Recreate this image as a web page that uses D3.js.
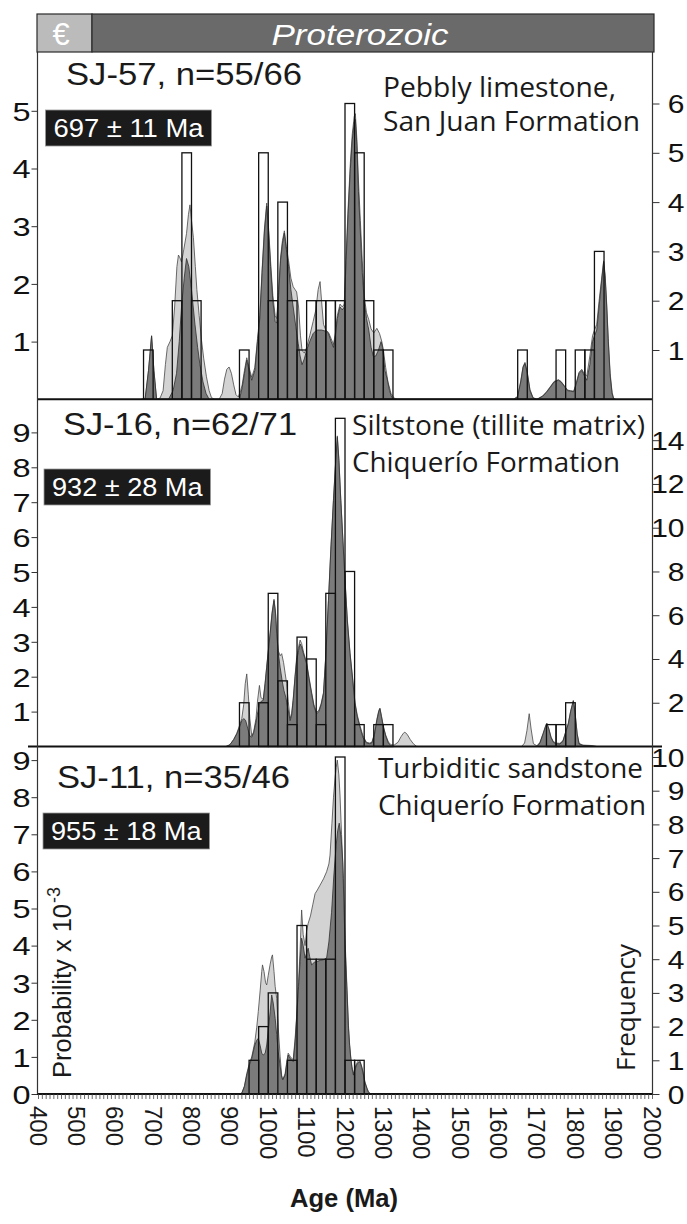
<!DOCTYPE html>
<html><head><meta charset="utf-8">
<script src="https://cdn.jsdelivr.net/npm/d3@7"></script>
<style>body{margin:0;background:#fff}svg{display:block}</style>
</head><body>
<svg id="c" width="687" height="1224"></svg>
<script>
// ---------------- DATA ----------------
const BIN_WIDTH = 25;
const ageTicks = d3.range(400, 2001, 100);
const ageMinorTicks = d3.range(400, 2001, 10);
const periodLabels = ["€", "Proterozoic"];
const sampleNames = ["SJ-57, n=55/66", "SJ-16, n=62/71", "SJ-11, n=35/46"];
const maxAgeLabels = ["697 ± 11 Ma", "932 ± 28 Ma", "955 ± 18 Ma"];
const lithology = [["Pebbly limestone,", "San Juan Formation"],
                   ["Siltstone (tillite matrix)", "Chiquerío Formation"],
                   ["Turbiditic sandstone", "Chiquerío Formation"]];
const probTicks1 = [1,2,3,4,5], freqTicks1 = [1,2,3,4,5,6];
const probTicks2 = [1,2,3,4,5,6,7,8,9], freqTicks2 = [2,4,6,8,10,12,14];
const probTicks3 = [0,1,2,3,4,5,6,7,8,9], freqTicks3 = [0,1,2,3,4,5,6,7,8,9,10];

// histogram bins (start age of 25 Ma bin) and counts
const sj57BinStart = [675,750,775,800,925,975,1000,1025,1050,1075,1100,1125,1150,1175,1200,1225,1250,1275,1300,1650,1750,1800,1825,1850];
const sj57Count    = [1,2,5,2,1,5,2,4,2,1,2,2,2,2,6,5,2,1,1,1,1,1,1,3];
const sj16BinStart = [925,975,1000,1025,1050,1075,1100,1125,1150,1175,1200,1225,1275,1300,1725,1750,1775];
const sj16Count    = [2,2,7,3,1,5,4,1,7,15,8,1,1,1,1,1,2];
const sj11BinStart = [950,975,1000,1050,1075,1100,1125,1150,1175,1200,1225];
const sj11Count    = [1,2,3,1,5,4,4,4,10,1,1];

// probability density curves [age, probability x 1e-3]
const sj57Dark = [[670,0],[679,0],[688,0.5],[696,1.1],[702,0.5],[709,0],[740,0],[752,0.15],[761,0.45],[768,1.0],[774,1.6],[781,2.1],[787,2.44],[793,2.3],[800,1.9],[809,1.3],[816,0.9],[822,0.6],[830,0.3],[838,0.1],[846,0],[925,0],[932,0.2],[938,0.45],[944,0.68],[950,0.5],[957,0.33],[965,0.5],[972,1.0],[978,1.4],[984,2.2],[990,2.9],[996,3.35],[1001,2.9],[1006,2.3],[1012,1.7],[1018,1.35],[1022,1.32],[1027,1.8],[1032,2.4],[1037,2.7],[1042,2.88],[1047,2.6],[1053,2.3],[1059,1.9],[1065,1.6],[1072,1.25],[1078,0.97],[1083,0.75],[1088,0.6],[1094,0.7],[1100,0.85],[1108,1.0],[1117,1.14],[1126,1.2],[1139,1.2],[1150,1.18],[1157,1.14],[1164,1.0],[1170,0.9],[1175,1.1],[1180,1.4],[1187,1.6],[1193,1.55],[1198,1.6],[1203,2.4],[1208,3.2],[1214,4.0],[1219,4.5],[1224,4.8],[1227,4.85],[1231,4.4],[1235,3.6],[1240,2.9],[1245,2.2],[1250,1.7],[1256,1.4],[1262,1.2],[1268,0.9],[1274,0.74],[1280,0.75],[1287,0.85],[1294,1.0],[1298,0.9],[1304,0.5],[1310,0.35],[1316,0.15],[1322,0.03],[1328,0],[1640,0],[1650,0.05],[1658,0.3],[1664,0.55],[1669,0.62],[1675,0.45],[1682,0.15],[1690,0.02],[1700,0],[1715,0.05],[1725,0.12],[1734,0.2],[1745,0.3],[1756,0.33],[1763,0.3],[1772,0.22],[1780,0.15],[1788,0.14],[1796,0.13],[1802,0.25],[1810,0.45],[1817,0.5],[1823,0.42],[1830,0.33],[1838,0.6],[1845,1.0],[1850,1.1],[1856,1.2],[1862,1.6],[1868,2.0],[1874,2.38],[1878,2.1],[1882,1.6],[1886,1.0],[1891,0.4],[1896,0.1],[1900,0]];
const sj57Light = [[670,0],[679,0],[688,0.5],[696,1.1],[702,0.5],[709,0],[718,0.02],[726,0.15],[732,0.6],[737,0.9],[744,1.0],[750,1.1],[756,1.6],[762,2.3],[766,2.5],[770,2.45],[774,2.38],[780,2.6],[787,2.87],[792,3.2],[796,3.37],[800,3.1],[805,2.8],[810,2.3],[814,1.9],[820,1.45],[826,1.03],[832,0.7],[839,0.39],[846,0.15],[852,0.03],[860,0],[872,0],[880,0.1],[886,0.35],[892,0.52],[898,0.56],[904,0.45],[910,0.25],[916,0.08],[922,0.04],[928,0.15],[932,0.25],[938,0.5],[944,0.72],[950,0.55],[957,0.38],[965,0.55],[972,1.05],[978,1.45],[984,2.25],[990,2.95],[996,3.4],[1001,2.95],[1006,2.4],[1012,1.8],[1018,1.45],[1022,1.4],[1027,1.9],[1032,2.45],[1037,2.75],[1042,2.92],[1047,2.65],[1053,2.4],[1059,2.1],[1065,1.95],[1070,1.9],[1074,1.86],[1079,1.6],[1084,1.1],[1088,0.85],[1094,0.8],[1100,0.9],[1108,1.1],[1117,1.35],[1124,1.55],[1130,1.9],[1135,2.04],[1139,1.7],[1144,1.3],[1150,1.2],[1157,1.16],[1164,1.05],[1170,0.95],[1175,1.15],[1180,1.45],[1187,1.65],[1193,1.6],[1198,1.65],[1203,2.5],[1208,3.3],[1214,4.1],[1219,4.6],[1224,4.9],[1227,4.95],[1231,4.5],[1235,3.8],[1240,3.1],[1245,2.4],[1250,1.8],[1256,1.5],[1262,1.38],[1268,1.22],[1275,1.15],[1283,1.23],[1290,1.14],[1296,1.0],[1300,0.85],[1306,0.55],[1312,0.3],[1320,0.1],[1328,0.02],[1336,0],[1640,0],[1650,0.05],[1658,0.32],[1664,0.57],[1669,0.64],[1675,0.47],[1682,0.17],[1690,0.03],[1700,0],[1715,0.06],[1725,0.13],[1734,0.21],[1745,0.31],[1756,0.34],[1763,0.31],[1772,0.23],[1780,0.16],[1788,0.15],[1796,0.14],[1802,0.27],[1810,0.47],[1817,0.52],[1823,0.45],[1830,0.4],[1838,0.75],[1845,1.1],[1850,1.2],[1856,1.3],[1862,1.7],[1868,2.05],[1874,2.4],[1878,2.15],[1882,1.65],[1886,1.05],[1891,0.45],[1896,0.12],[1900,0.02],[1905,0]];

const sj16Dark = [[890,0],[900,0.05],[910,0.2],[918,0.36],[925,0.55],[931,0.74],[936,0.8],[941,0.75],[947,0.5],[952,0.3],[957,0.27],[962,0.4],[968,0.7],[973,1.0],[977,1.22],[982,1.3],[987,1.32],[992,1.8],[996,2.27],[1001,2.8],[1005,3.23],[1010,3.8],[1015,4.18],[1019,3.8],[1022,3.23],[1026,2.7],[1031,2.27],[1036,1.9],[1041,1.6],[1046,1.4],[1051,1.1],[1057,0.74],[1061,0.9],[1065,1.32],[1070,2.0],[1074,2.46],[1079,2.75],[1083,2.94],[1087,2.85],[1092,2.65],[1100,2.37],[1106,1.95],[1113,1.51],[1119,1.15],[1126,0.94],[1132,1.0],[1138,1.2],[1144,1.51],[1150,2.6],[1157,4.18],[1163,5.6],[1170,7.05],[1175,8.0],[1180,8.86],[1184,8.2],[1189,7.05],[1194,6.0],[1200,4.76],[1206,3.6],[1213,2.66],[1220,1.9],[1226,1.22],[1232,0.85],[1239,0.55],[1247,0.25],[1256,0.1],[1264,0.08],[1270,0.1],[1277,0.35],[1283,0.74],[1288,1.0],[1291,1.08],[1295,0.85],[1300,0.55],[1306,0.3],[1313,0.1],[1320,0.02],[1326,0],[1700,0],[1708,0.1],[1716,0.35],[1722,0.55],[1726,0.65],[1731,0.5],[1737,0.25],[1743,0.12],[1750,0.08],[1760,0.07],[1768,0.15],[1775,0.4],[1782,0.65],[1788,1.0],[1795,1.3],[1800,0.9],[1805,0.35],[1810,0.07],[1820,0.03],[1840,0.02],[1856,0]];
const sj16Light = [[890,0],[900,0.05],[910,0.2],[918,0.38],[925,0.6],[931,0.8],[936,1.2],[940,1.8],[944,2.08],[948,1.5],[952,0.8],[957,0.3],[962,0.42],[968,0.8],[972,1.3],[977,1.75],[981,1.4],[987,1.35],[992,1.85],[996,2.3],[1001,2.85],[1005,3.27],[1010,3.85],[1015,4.22],[1019,3.85],[1022,3.3],[1026,2.75],[1031,2.6],[1035,2.66],[1040,2.4],[1044,2.1],[1048,1.8],[1052,1.3],[1057,0.8],[1061,0.95],[1065,1.36],[1070,2.05],[1074,2.55],[1079,2.85],[1083,3.05],[1087,2.95],[1092,2.7],[1100,2.4],[1106,2.0],[1113,1.55],[1119,1.2],[1126,0.98],[1132,1.04],[1138,1.24],[1144,1.55],[1150,2.65],[1157,4.22],[1163,5.65],[1170,7.1],[1175,8.05],[1180,8.9],[1184,8.25],[1189,7.1],[1194,6.05],[1200,4.8],[1206,3.65],[1213,2.7],[1220,1.95],[1226,1.27],[1232,0.9],[1239,0.6],[1247,0.3],[1256,0.12],[1264,0.1],[1270,0.12],[1277,0.38],[1283,0.78],[1288,1.03],[1291,1.1],[1295,0.88],[1300,0.58],[1306,0.33],[1313,0.13],[1320,0.05],[1328,0.04],[1338,0.12],[1346,0.28],[1352,0.38],[1356,0.41],[1362,0.35],[1370,0.2],[1378,0.08],[1387,0],[1660,0],[1668,0.1],[1674,0.45],[1680,0.94],[1685,0.5],[1691,0.08],[1700,0.02],[1708,0.12],[1716,0.37],[1722,0.57],[1726,0.67],[1731,0.52],[1737,0.27],[1743,0.14],[1750,0.1],[1760,0.09],[1768,0.17],[1775,0.42],[1782,0.67],[1788,1.02],[1795,1.32],[1800,0.92],[1805,0.37],[1810,0.09],[1820,0.04],[1840,0.03],[1856,0]];

const sj11Dark = [[925,0],[931,0.02],[938,0.2],[944,0.51],[950,0.75],[957,0.96],[965,1.32],[970,1.45],[974,1.5],[979,1.3],[983,1.1],[987,1.05],[992,1.1],[996,1.32],[1001,1.8],[1005,2.22],[1009,2.67],[1013,2.45],[1018,2.04],[1022,1.6],[1026,1.14],[1031,0.75],[1035,0.45],[1038,0.38],[1044,0.51],[1048,0.8],[1052,1.05],[1058,0.95],[1065,0.87],[1070,1.4],[1074,2.04],[1079,2.9],[1083,3.57],[1087,4.2],[1091,4.0],[1096,3.66],[1100,3.8],[1104,3.93],[1108,3.7],[1113,3.48],[1120,3.55],[1126,3.57],[1135,3.6],[1144,3.62],[1152,3.66],[1158,4.1],[1165,4.9],[1171,5.9],[1177,6.71],[1181,7.1],[1185,7.3],[1190,6.9],[1194,6.26],[1197,5.2],[1200,4.02],[1205,2.8],[1209,1.77],[1212,1.3],[1215,0.96],[1218,0.7],[1222,0.51],[1226,0.65],[1230,0.78],[1235,0.85],[1239,0.87],[1244,0.7],[1248,0.51],[1252,0.3],[1257,0.15],[1261,0.05],[1265,0]];
const sj11Light = [[925,0],[931,0.02],[938,0.22],[944,0.55],[950,0.8],[957,1.0],[965,1.4],[970,1.8],[974,2.22],[979,2.8],[983,3.3],[985,3.48],[989,3.3],[993,3.0],[996,2.94],[1000,3.2],[1005,3.5],[1009,3.7],[1011,3.75],[1015,3.3],[1018,2.9],[1022,2.58],[1026,1.8],[1031,1.0],[1035,0.5],[1038,0.4],[1044,0.55],[1048,0.85],[1052,1.1],[1058,1.0],[1065,0.92],[1070,1.5],[1074,2.1],[1079,3.0],[1083,3.9],[1087,4.96],[1091,4.3],[1096,4.0],[1100,4.4],[1104,4.6],[1110,4.8],[1116,5.1],[1122,5.4],[1128,5.5],[1135,5.63],[1144,5.8],[1152,5.99],[1158,6.2],[1161,6.44],[1166,7.3],[1170,8.0],[1174,8.51],[1177,8.8],[1180,9.0],[1184,8.6],[1187,8.06],[1191,7.0],[1196,5.81],[1200,4.2],[1205,2.9],[1209,1.85],[1212,1.35],[1215,1.0],[1218,0.75],[1222,0.55],[1226,0.7],[1230,0.82],[1235,0.9],[1239,0.9],[1244,0.73],[1248,0.55],[1252,0.33],[1257,0.17],[1261,0.06],[1268,0]];

// ---------------- LAYOUT ----------------
const svg = d3.select("#c");
const X0 = 38, X1 = 652;
const x = d3.scaleLinear().domain([400, 2000]).range([X0, X1]);

const panels = [
  {top:52, base:399.3, probMax:5, probMaxY:110.8, freqMax:6, freqMaxY:103.5,
   probTicks:probTicks1, freqTicks:freqTicks1, bins:sj57BinStart, counts:sj57Count,
   dark:sj57Dark, light:sj57Light, lineX:[37, 653],
   nameX:66, nameY:85, nameW:236,
   boxX:45.5, boxY:110, boxW:166, boxH:36, ageY:137,
   lithX:383, lithY:[97,131], lithW:[233,257]},
  {top:399.3, base:746.5, probMax:9, probMaxY:432.4, freqMax:14, freqMaxY:440.2,
   probTicks:probTicks2, freqTicks:freqTicks2, bins:sj16BinStart, counts:sj16Count,
   dark:sj16Dark, light:sj16Light, lineX:[28, 662],
   nameX:63, nameY:435, nameW:234,
   boxX:44, boxY:469, boxW:166.5, boxH:36, ageY:496,
   lithX:352, lithY:[435,472], lithW:[293,268]},
  {top:746.5, base:1094, probMax:9, probMaxY:760.1, freqMax:10, freqMaxY:757,
   probTicks:probTicks3, freqTicks:freqTicks3, bins:sj11BinStart, counts:sj11Count,
   dark:sj11Dark, light:sj11Light, lineX:[37, 653],
   nameX:57, nameY:788, nameW:233,
   boxX:43, boxY:813, boxW:166.5, boxH:36, ageY:840,
   lithX:378, lithY:[778,815], lithW:[265,268]}
];

const SANS = "'Liberation Sans', Arial, sans-serif";
const HUM = "'Open Sans', 'Noto Sans', sans-serif";

svg.append("defs").append("clipPath").attr("id","plotclip")
  .append("rect").attr("x",X0-1).attr("y",52).attr("width",X1-X0+2).attr("height",1094-52);

panels.forEach((p, i) => {
  const yP = d3.scaleLinear().domain([0, p.probMax]).range([p.base, p.probMaxY]);
  const yF = d3.scaleLinear().domain([0, p.freqMax]).range([p.base, p.freqMaxY]);
  const g = svg.append("g").attr("clip-path","url(#plotclip)");

  const area = d3.area().x(d => x(d[0])).y0(p.base).y1(d => yP(d[1]));
  g.append("path").datum(p.light).attr("d", area)
    .attr("fill","#d3d3d3").attr("stroke","#484848").attr("stroke-width",0.8).attr("stroke-linejoin","round");
  g.append("path").datum(p.dark).attr("d", area)
    .attr("fill","#7b7b7b").attr("stroke","#2e2e2e").attr("stroke-width",0.8).attr("stroke-linejoin","round");

  const bins = p.bins.map((b, k) => ({start:b, count:p.counts[k]}));
  g.selectAll("rect.bar").data(bins).join("rect").attr("class","bar")
    .attr("x", d => x(d.start))
    .attr("width", d => x(d.start + BIN_WIDTH) - x(d.start))
    .attr("y", d => yF(d.count))
    .attr("height", d => p.base - yF(d.count))
    .attr("fill","none").attr("stroke","#111").attr("stroke-width",1.3);

  // left probability axis
  const la = svg.append("g").attr("transform",`translate(${X0 - 0.5},0)`)
    .call(d3.axisLeft(yP).tickValues(p.probTicks).tickSize(6).tickSizeOuter(0).tickFormat(d3.format("d")));
  la.select(".domain").remove();
  la.selectAll(".tick line").attr("stroke","#333").attr("stroke-width",1);
  la.selectAll(".tick text").attr("font-family",SANS).attr("font-size",26).attr("fill","#111")
    .attr("x",-7/1.25).attr("dy","0.36em").attr("transform","scale(1.25,1)");

  // right frequency axis
  const ra = svg.append("g").attr("transform",`translate(${X1 + 0.5},0)`)
    .call(d3.axisRight(yF).tickValues(p.freqTicks).tickSize(7).tickSizeOuter(0).tickFormat(d3.format("d")));
  ra.select(".domain").remove();
  ra.selectAll(".tick line").attr("stroke","#333").attr("stroke-width",1);
  ra.selectAll(".tick text").attr("font-family",SANS).attr("font-size",25).attr("fill","#111")
    .attr("text-anchor","end").attr("x",32/1.2).attr("dy","0.36em").attr("transform","scale(1.2,1)");

  // panel baseline
  svg.append("line").attr("x1", p.lineX[0]).attr("x2", p.lineX[1])
    .attr("y1", p.base).attr("y2", p.base).attr("stroke","#111").attr("stroke-width", 2);

  // sample name
  svg.append("text").attr("x",p.nameX).attr("y",p.nameY).text(sampleNames[i])
    .attr("font-family",SANS).attr("font-size",32).attr("fill","#1a1a1a")
    .attr("textLength",p.nameW).attr("lengthAdjust","spacingAndGlyphs");
  // max depositional age box
  svg.append("rect").attr("x",p.boxX).attr("y",p.boxY).attr("width",p.boxW).attr("height",p.boxH)
    .attr("fill","#1b1b1b").attr("stroke","#9a9a9a").attr("stroke-width",0.8);
  svg.append("text").attr("x",p.boxX + p.boxW/2).attr("y",p.ageY).text(maxAgeLabels[i])
    .attr("text-anchor","middle").attr("font-family",SANS).attr("font-size",26).attr("fill","#fff")
    .attr("textLength",p.boxW - 16).attr("lengthAdjust","spacingAndGlyphs");
  // lithology
  lithology[i].forEach((t, k) => {
    svg.append("text").attr("x",p.lithX).attr("y",p.lithY[k]).text(t)
      .attr("font-family",HUM).attr("font-size",27).attr("fill","#1a1a1a")
      .attr("textLength",p.lithW[k]).attr("lengthAdjust","spacingAndGlyphs");
  });
});

// frame sides
svg.append("line").attr("x1",X0-0.5).attr("x2",X0-0.5).attr("y1",52).attr("y2",1094).attr("stroke","#333").attr("stroke-width",1.2);
svg.append("line").attr("x1",X1+0.5).attr("x2",X1+0.5).attr("y1",52).attr("y2",1094).attr("stroke","#333").attr("stroke-width",1.2);

// bottom age axis
const ba = svg.append("g").attr("transform","translate(0,1094)")
  .call(d3.axisBottom(x).tickValues(ageMinorTicks).tickSize(5).tickSizeOuter(0).tickFormat(""));
ba.select(".domain").remove();
ba.selectAll(".tick line").attr("stroke","#444").attr("stroke-width",0.8);
svg.append("g").selectAll("text").data(ageTicks).join("text")
  .attr("transform", d => `translate(${x(d)},1106) rotate(90)`)
  .attr("dy","0.35em").attr("font-family",SANS).attr("font-size",24).attr("fill","#1a1a1a")
  .text(d => d);

// header
svg.append("rect").attr("x",37).attr("y",14).attr("width",55).attr("height",38)
  .attr("fill","#bbbbbb").attr("stroke","#2a2a2a").attr("stroke-width",1.2);
svg.append("rect").attr("x",92).attr("y",14).attr("width",562).attr("height",38)
  .attr("fill","#6a6a6a").attr("stroke","#2a2a2a").attr("stroke-width",1.2);
svg.append("text").attr("x",61).attr("y",45).attr("text-anchor","middle").text(periodLabels[0])
  .attr("font-family",SANS).attr("font-size",31).attr("fill","#fff");
svg.append("text").attr("x",360).attr("y",45).attr("text-anchor","middle").text(periodLabels[1])
  .attr("font-family",SANS).attr("font-style","italic").attr("font-size",30).attr("fill","#fff")
  .attr("textLength",177).attr("lengthAdjust","spacingAndGlyphs");

// axis titles
const pl = svg.append("text").attr("transform","translate(71,1078) rotate(-90)")
  .attr("font-family",SANS).attr("font-size",26).attr("fill","#1a1a1a");
pl.append("tspan").attr("textLength",174).attr("lengthAdjust","spacingAndGlyphs").text("Probability x 10");
pl.append("tspan").attr("dy",-11).attr("dx",1).attr("font-size",18).text("-3");
svg.append("text").attr("transform","translate(635,1071) rotate(-90)")
  .attr("font-family",HUM).attr("font-size",26).attr("fill","#1a1a1a")
  .attr("textLength",127).attr("lengthAdjust","spacingAndGlyphs").text("Frequency");
svg.append("text").attr("x",344).attr("y",1207).attr("text-anchor","middle")
  .attr("font-family",SANS).attr("font-weight","bold").attr("font-size",25).attr("fill","#1a1a1a")
  .attr("textLength",108).attr("lengthAdjust","spacingAndGlyphs").text("Age (Ma)");
</script>
</body></html>
